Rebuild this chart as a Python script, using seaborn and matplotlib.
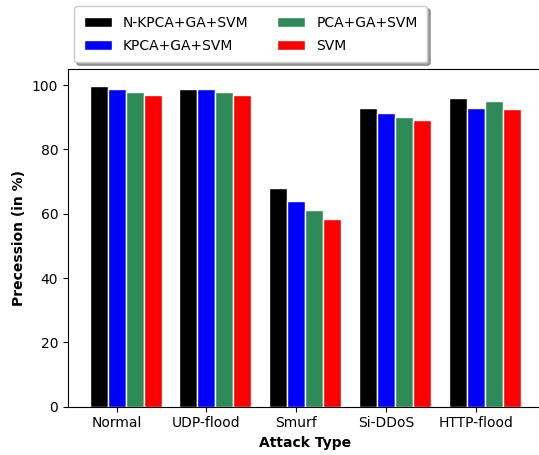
import numpy as np
import matplotlib
matplotlib.use("Agg")
import matplotlib.pyplot as plt
import seaborn as sb
import pandas as pd

attacks = ["Normal", "UDP-flood", "Smurf", "Si-DDoS", "HTTP-flood"]
methods = ["N-KPCA+GA+SVM", "KPCA+GA+SVM", "PCA+GA+SVM", "SVM"]
colors = ["black", "blue", "seagreen", "red"]

nkpca = [99.8, 98.9, 67.9, 93.0, 96.1]
kpca = [98.9, 98.9, 64.1, 91.2, 93.0]
pca = [97.9, 97.9, 61.0, 90.1, 95.0]
svm = [97.0, 97.0, 58.2, 89.2, 92.6]

#%% long table for seaborn
dataset = pd.DataFrame({
    "attack": attacks * 4,
    "method": np.repeat(methods, len(attacks)),
    "value": np.concatenate((nkpca, kpca, pca, svm)),
    })

fig = plt.figure(figsize=(5.39, 4.55), dpi=100)
ax = fig.add_axes([0.1262, 0.1062, 0.8805, 0.7422])

sb.barplot(x="attack", y="value", hue="method", data=dataset, ax=ax,
           order=attacks, hue_order=methods, palette=colors,
           width=0.8, edgecolor="white", linewidth=1, saturation=1)

#ticks sit under the blue bar, like plain matplotlib offsets
ax.set_xticks(np.arange(len(attacks)) - 0.1)
ax.set_xticklabels(attacks)
ax.set_xlim(-0.64, 4.64)
ax.set_ylim(0, 105)
ax.set_xlabel("Attack Type", fontweight="bold")
ax.set_ylabel("Precession (in %)", fontweight="bold")

handles, labels = ax.get_legend_handles_labels()
ax.get_legend().remove()
fig.legend(handles, labels, ncol=2, loc="upper left",
           bbox_to_anchor=(74 / 539, 1 - 6 / 455), borderaxespad=0,
           borderpad=0.7, labelspacing=0.65, columnspacing=2.1,
           shadow=True, frameon=True)

fig.savefig("out.png", dpi=100)
